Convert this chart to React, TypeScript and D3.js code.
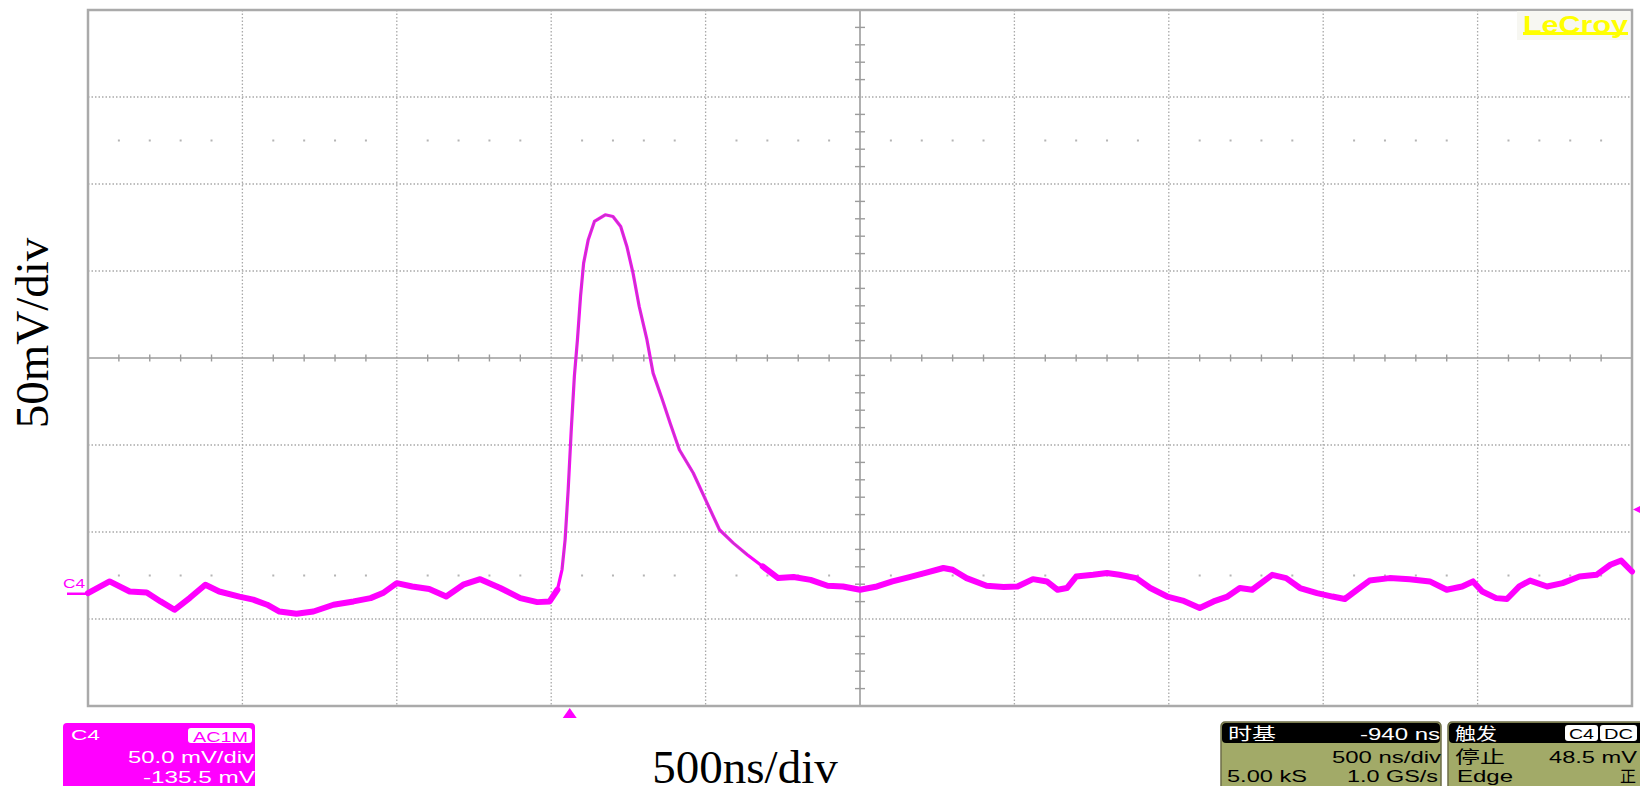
import React from 'react';
import * as d3 from 'd3';

// ---- data ----
const timeNs = [-1560,-1490,-1425,-1370,-1325,-1280,-1230,-1180,-1135,-1070,
  -1025,-980,-940,-885,-830,-765,-700,-645,-605,-560,
  -510,-455,-400,-345,-290,-225,-160,-105,-65,-40,
  -25,-15,-5,5,15,25,35,45,60,80,
  115,140,165,185,205,225,250,270,300,325,
  355,400,445,485,530,575,625,675,725,780,
  835,885,940,995,1045,1100,1155,1210,1240,1285,
  1350,1405,1450,1500,1545,1580,1610,1640,1695,1740,
  1780,1835,1880,1935,1985,2040,2085,2130,2170,2210,
  2275,2320,2365,2420,2470,2510,2550,2590,2655,2720,
  2785,2840,2890,2925,2955,3000,3035,3075,3110,3165,
  3215,3270,3325,3370,3405,3440];
const voltageMv = [0.4,7.1,1.3,0.7,-4.4,-9.2,-2.3,5.2,1.3,-1.6,
  -3.4,-6.3,-10.2,-11.5,-10.2,-6.3,-4.4,-2.5,0.4,6.1,
  4.2,2.7,-1.6,5.2,8.4,3.3,-2.5,-4.8,-4.4,2.3,
  13.8,31.0,59.8,94.3,124.9,146,170.9,190,203.5,214,
  217.8,216.8,211.1,199.6,184.3,165.1,146,126.8,111.5,98.1,
  82.8,69.4,52.1,36.8,29.1,22.4,15.7,9.0,9.6,8.0,
  4.6,4.2,2.3,4.2,7.1,9.6,12.2,14.8,13.8,9.0,
  4.6,3.9,4.2,8.4,7.1,2.3,3.3,9.9,10.9,11.9,
  10.9,9.0,3.3,-1.6,-3.9,-8.2,-4.4,-1.6,3.3,2.3,
  10.9,9.0,3.3,0.4,-1.6,-3.0,2.3,7.6,9.0,8.4,
  7.1,2.3,4.2,7.1,1.3,-2.5,-3.0,4.2,7.6,4.2,
  6.1,9.9,10.9,16.7,19.1,12.8];

const nsPerDiv = 500;
const mvPerDiv = 50;
const xDivisions = 10;
const yDivisions = 8;
const delayNs = 940;      // time at screen centre
const offsetMv = -135.5;  // channel offset
const triggerLevelMv = 48.5;
const triggerTimeNs = 0;
const pulseWindowNs = [-30, 600]; // fast edge region (thin trace)

const xLabel = '500ns/div';
const yLabel = '50mV/div';
const channelLines = ['C4', 'AC1M', '50.0 mV/div', '-135.5 mV'];
const timebaseLines = ['时基', '-940 ns', '500 ns/div', '5.00 kS', '1.0 GS/s'];
const triggerLines = ['触发', 'C4', 'DC', '停止', '48.5 mV', 'Edge', '正'];

const SANS = '"Liberation Sans", Arial, sans-serif';
const CJK = '"Noto Sans CJK SC", sans-serif';
const SERIF = '"Liberation Serif", "Times New Roman", serif';
const MAG = '#ff00ff';
const GRID = '#a9a9a9';
const PANEL = '#a2aa68';

export default function App() {
  const left = 88, right = 1632, top = 10, bottom = 706;
  const t0 = delayNs - (xDivisions / 2) * nsPerDiv;
  const t1 = delayNs + (xDivisions / 2) * nsPerDiv;
  const vCenter = -offsetMv;
  const v0 = vCenter - (yDivisions / 2) * mvPerDiv;
  const v1 = vCenter + (yDivisions / 2) * mvPerDiv;
  const x = d3.scaleLinear().domain([t0, t1]).range([left, right]);
  const y = d3.scaleLinear().domain([v0, v1]).range([bottom, top]);

  const pts = timeNs.map((t, i) => [t, voltageMv[i]] as [number, number]);
  const line = d3.line<[number, number]>().x(d => x(d[0])).y(d => y(d[1]));
  const before = pts.filter(p => p[0] <= pulseWindowNs[0]);
  const after = pts.filter(p => p[0] >= pulseWindowNs[1]);

  const xGrid = d3.range(1, xDivisions).map(i => t0 + i * nsPerDiv);
  const yGrid = d3.range(1, yDivisions).map(j => v0 + j * mvPerDiv);
  const xc = x(delayNs), yc = y(vCenter);
  const xMinor = d3.range(1, xDivisions * 5).filter(k => k % 5 !== 0).map(k => t0 + k * nsPerDiv / 5);
  const yMinor = d3.range(1, yDivisions * 5).filter(k => k % 5 !== 0).map(k => v0 + k * mvPerDiv / 5);
  const dotRows = [vCenter + 2.5 * mvPerDiv, vCenter - 2.5 * mvPerDiv];
  const yZero = y(0);
  const yTrig = y(triggerLevelMv);
  const xTrig = x(triggerTimeNs);

  return (
    <svg width={1640} height={786} style={{ position: 'absolute', left: 0, top: 0, background: '#fff' }}>
      <rect x={0} y={0} width={1640} height={786} fill="#fff" />
      {/* grid */}
      {xGrid.filter(t => t !== delayNs).map(t => (
        <line key={'gx' + t} x1={x(t)} x2={x(t)} y1={top} y2={bottom} stroke={GRID} strokeWidth={1.3} strokeDasharray="1.5,2" />
      ))}
      {yGrid.filter(v => Math.abs(v - vCenter) > 1e-6).map(v => (
        <line key={'gy' + v} x1={left} x2={right} y1={y(v)} y2={y(v)} stroke={GRID} strokeWidth={1.3} strokeDasharray="1.5,2" />
      ))}
      {dotRows.map(v => xMinor.map(t => (
        <rect key={'d' + v + '_' + t} x={x(t) - 1} y={y(v) - 1} width={2} height={2} fill="#b4b4b4" />
      )))}
      {/* centre axes */}
      <line x1={left} x2={right} y1={yc} y2={yc} stroke="#9c9c9c" strokeWidth={1.6} />
      <line x1={xc} x2={xc} y1={top} y2={bottom} stroke="#9c9c9c" strokeWidth={1.6} />
      {xMinor.map(t => (
        <line key={'mx' + t} x1={x(t)} x2={x(t)} y1={yc - 3.5} y2={yc + 3.5} stroke="#9c9c9c" strokeWidth={1.4} />
      ))}
      {yMinor.map(v => (
        <line key={'my' + v} x1={xc - 5} x2={xc + 5} y1={y(v)} y2={y(v)} stroke="#9c9c9c" strokeWidth={1.4} />
      ))}
      {/* frame */}
      <rect x={left} y={top} width={right - left} height={bottom - top} fill="none" stroke="#aaaaaa" strokeWidth={2.5} />

      {/* waveform: noisy baseline drawn as a wider band, fast pulse as thin trace */}
      <path d={line(before) || ''} fill="none" stroke={MAG} strokeWidth={6} strokeLinejoin="round" strokeLinecap="round" />
      <path d={line(after) || ''} fill="none" stroke={MAG} strokeWidth={6} strokeLinejoin="round" strokeLinecap="round" />
      <path d={line(pts) || ''} fill="none" stroke={MAG} strokeWidth={3.2} strokeLinejoin="round" />
      <path d={line(pts.filter(p => p[0] > pulseWindowNs[0] && p[0] < pulseWindowNs[1])) || ''} fill="none" stroke="#c23ec2" strokeWidth={1.6} strokeLinejoin="round" />

      {/* ground marker */}
      <text x={63} y={588} fontFamily={SANS} fontSize={12} fill={MAG} textLength={22} lengthAdjust="spacingAndGlyphs">{channelLines[0]}</text>
      <line x1={67} x2={left} y1={yZero} y2={yZero} stroke={MAG} strokeWidth={2.5} />
      {/* trigger markers */}
      <path d={`M${xTrig},${bottom + 2} L${xTrig - 7},${bottom + 12} L${xTrig + 7},${bottom + 12} Z`} fill={MAG} />
      <path d={`M${right + 1},${yTrig} L${1640},${yTrig - 3.5} L${1640},${yTrig + 3.5} Z`} fill={MAG} />

      {/* LeCroy logo */}
      <rect x={1517} y={11} width={113} height={29} fill="#f7f7f2" />
      <text x={1523} y={33} fontFamily={SANS} fontWeight="bold" fontSize={24} fill="#ffff00" textLength={105} lengthAdjust="spacingAndGlyphs">LeCroy</text>
      <rect x={1523} y={32} width={105} height={3} fill="#ffff00" />

      {/* channel box */}
      <rect x={63} y={723} width={192} height={70} rx={4} fill={MAG} />
      <text x={71} y={740} fontFamily={SANS} fontSize={15} fill="#fff" textLength={29} lengthAdjust="spacingAndGlyphs">{channelLines[0]}</text>
      <rect x={188} y={728} width={64} height={15} rx={3} fill="#fff" />
      <text x={193} y={742} fontFamily={SANS} fontSize={15} fill={MAG} textLength={55} lengthAdjust="spacingAndGlyphs">{channelLines[1]}</text>
      <text x={128} y={763} fontFamily={SANS} fontSize={16} fill="#fff" textLength={126} lengthAdjust="spacingAndGlyphs">{channelLines[2]}</text>
      <text x={143} y={783} fontFamily={SANS} fontSize={16} fill="#fff" textLength={112} lengthAdjust="spacingAndGlyphs">{channelLines[3]}</text>

      {/* timebase panel */}
      <rect x={1221} y={722} width={220} height={70} rx={4} fill={PANEL} stroke="#6d6d48" strokeWidth={1.5} />
      <rect x={1222} y={723} width={218} height={20} rx={4} fill="#000" />
      <text x={1228} y={740} fontFamily={CJK} fontSize={17} fill="#fff" textLength={48} lengthAdjust="spacingAndGlyphs">{timebaseLines[0]}</text>
      <text x={1360} y={740} fontFamily={SANS} fontSize={16} fill="#fff" textLength={80} lengthAdjust="spacingAndGlyphs">{timebaseLines[1]}</text>
      <text x={1332} y={763} fontFamily={SANS} fontSize={16} fill="#000" textLength={109} lengthAdjust="spacingAndGlyphs">{timebaseLines[2]}</text>
      <text x={1227} y={782} fontFamily={SANS} fontSize={16} fill="#000" textLength={80} lengthAdjust="spacingAndGlyphs">{timebaseLines[3]}</text>
      <text x={1347} y={782} fontFamily={SANS} fontSize={16} fill="#000" textLength={91} lengthAdjust="spacingAndGlyphs">{timebaseLines[4]}</text>

      {/* trigger panel */}
      <rect x={1448} y={722} width={196} height={70} rx={4} fill={PANEL} stroke="#6d6d48" strokeWidth={1.5} />
      <rect x={1449} y={723} width={194} height={20} rx={4} fill="#000" />
      <text x={1455} y={740} fontFamily={CJK} fontSize={17} fill="#fff" textLength={42} lengthAdjust="spacingAndGlyphs">{triggerLines[0]}</text>
      <rect x={1565} y={725} width={33} height={16} rx={3} fill="#fff" />
      <text x={1569} y={739} fontFamily={SANS} fontSize={14} fill="#000" textLength={25} lengthAdjust="spacingAndGlyphs">{triggerLines[1]}</text>
      <rect x={1600} y={725} width={37} height={16} rx={3} fill="#fff" />
      <text x={1604} y={739} fontFamily={SANS} fontSize={14} fill="#000" textLength={29} lengthAdjust="spacingAndGlyphs">{triggerLines[2]}</text>
      <text x={1455} y={763} fontFamily={CJK} fontSize={17} fill="#000" textLength={50} lengthAdjust="spacingAndGlyphs">{triggerLines[3]}</text>
      <text x={1549} y={763} fontFamily={SANS} fontSize={16} fill="#000" textLength={88} lengthAdjust="spacingAndGlyphs">{triggerLines[4]}</text>
      <text x={1457} y={782} fontFamily={SANS} fontSize={16} fill="#000" textLength={56} lengthAdjust="spacingAndGlyphs">{triggerLines[5]}</text>
      <text x={1620} y={782} fontFamily={CJK} fontSize={16} fill="#000">{triggerLines[6]}</text>

      {/* axis titles */}
      <text x={745} y={783} textAnchor="middle" fontFamily={SERIF} fontSize={47} fill="#000">{xLabel}</text>
      <text transform={`translate(48,333) rotate(-90)`} textAnchor="middle" fontFamily={SERIF} fontSize={47} fill="#000">{yLabel}</text>
    </svg>
  );
}
